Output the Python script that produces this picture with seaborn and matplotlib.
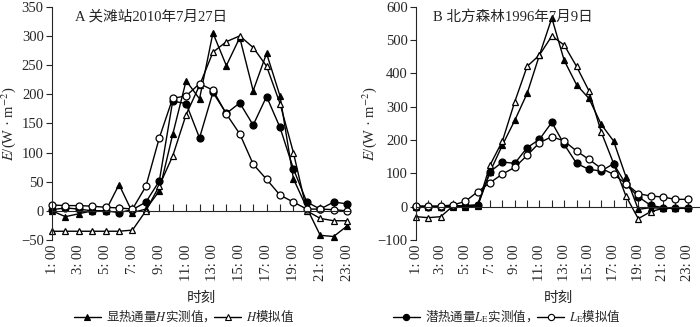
import matplotlib
matplotlib.use("Agg")
import matplotlib.pyplot as plt
from matplotlib.lines import Line2D
import seaborn as sns
import numpy as np
import pandas as pd

sns.set_style("ticks")
plt.rcParams['font.family'] = ['Liberation Serif', 'Noto Sans CJK SC']
plt.rcParams['mathtext.fontset'] = 'stix'

hours = list(range(1, 24))
tick_hours = list(range(1, 24, 2))
tick_labels = [f"{h}: 00" for h in tick_hours]

# Panel A: 关滩站 2010-07-27
H_meas_A = [0, -10, -5, 0, 0, 45, -3, 3, 34, 131, 223, 192, 305, 249, 297, 206, 270, 197, 55, 5, -42, -44, -26]
H_sim_A = [-35, -35, -35, -35, -35, -35, -33, 0, 43, 94, 165, 215, 272, 290, 300, 280, 248, 184, 100, 0, -13, -17, -17]
LE_meas_A = [2, 5, 3, 0, 0, -3, 2, 15, 51, 188, 184, 125, 203, 167, 185, 147, 196, 143, 72, 15, 3, 15, 12]
LE_sim_A = [10, 9, 9, 8, 6, 5, 3, 42, 125, 193, 197, 218, 207, 166, 132, 80, 54, 27, 15, 3, 3, 2, 0]

# Panel B: 北方森林 1996-07-09
H_meas_B = [0, 0, 0, 0, 0, 2, 105, 185, 259, 340, 455, 566, 439, 366, 325, 247, 197, 90, -8, -3, -5, -5, -5]
H_sim_B = [-30, -33, -30, 2, 3, 5, 125, 197, 315, 421, 455, 512, 485, 421, 348, 224, 130, 32, -36, -15, -5, -3, -3]
LE_meas_B = [0, 0, 0, 2, 3, 5, 105, 134, 130, 177, 202, 253, 187, 130, 112, 107, 129, 67, 30, 4, -3, -5, -5]
LE_sim_B = [2, 2, 2, 5, 16, 45, 72, 98, 118, 154, 192, 210, 197, 167, 142, 115, 97, 69, 39, 32, 29, 22, 22]

labels = ["显热通量$H$实测值，", "$H$模拟值", "潜热通量$L_\\mathrm{E}$实测值，", "$L_\\mathrm{E}$模拟值"]
styles = [("^", "black"), ("^", "white"), ("o", "black"), ("o", "white")]

fig = plt.figure(figsize=(7.0, 3.27), dpi=100)
axA = fig.add_axes([52/700, 1-240/327, 298/700, (240-6.7)/327])
axB = fig.add_axes([416/700, 1-240/327, 284/700, (240-6.7)/327])

panels = [
    (axA, [H_meas_A, H_sim_A, LE_meas_A, LE_sim_A], (-50, 350), 50, (1, 23.22), "A 关滩站2010年7月27日", 0.077, -0.115),
    (axB, [H_meas_B, H_sim_B, LE_meas_B, LE_sim_B], (-100, 600), 100, (1, 24.0), "B 北方森林1996年7月9日", 0.06, -0.13),
]

for ax, series, ylim, ystep, xlim, title, tx, ylx in panels:
    for vals, (mk, fc), lab in zip(series, styles, labels):
        df = pd.DataFrame({"hour": hours, "E": vals})
        sns.lineplot(data=df, x="hour", y="E", ax=ax, color="black", lw=1.0,
                     marker=mk, markersize=5, markerfacecolor=fc,
                     markeredgecolor="black", markeredgewidth=0.9,
                     clip_on=False, legend=False)
    ax.set_xlim(*xlim)
    ax.set_ylim(*ylim)
    ax.set_yticks(np.arange(ylim[0], ylim[1] + 1, ystep))
    ax.spines['top'].set_visible(False)
    ax.spines['right'].set_visible(False)
    ax.spines['bottom'].set_position(('data', 0))
    ax.set_xticks(hours)
    ax.tick_params(axis='x', direction='in', length=5, width=0.8, labelbottom=False)
    ax.tick_params(axis='y', direction='out', length=4, width=0.8, labelsize=10.5, pad=2)
    ax.set_xlabel("")
    ax.set_ylabel(r"$E$/(W · m$^{-2}$)", fontsize=10.5)
    ax.yaxis.set_label_coords(ylx, 0.5)
    sec = ax.secondary_xaxis('bottom')
    sec.set_xticks(tick_hours, tick_labels, rotation=90, fontsize=10.5)
    sec.tick_params(length=0, pad=3)
    sec.spines['bottom'].set_visible(False)
    ax.text(tx, 0.985, title, transform=ax.transAxes,
            fontsize=10.5, va='top', ha='left')

fig.text(201/700, 1-298/327, "时刻", ha='center', va='center', fontsize=10.5)
fig.text(558/700, 1-298/327, "时刻", ha='center', va='center', fontsize=10.5)

handles = [Line2D([], [], color='black', lw=1.0, marker=mk, markersize=4.5,
                  markerfacecolor=fc, markeredgecolor='black', markeredgewidth=0.8)
           for mk, fc in styles]
leg_prop = {'family': 'Noto Sans CJK SC', 'size': 9}
fig.legend(handles[0:2], labels[0:2], loc='center', bbox_to_anchor=(184/700, 1-316/327),
           ncol=2, frameon=False, prop=leg_prop, handlelength=2.2, handletextpad=0.4,
           columnspacing=0.4, borderpad=0, borderaxespad=0)
fig.legend(handles[2:4], labels[2:4], loc='center', bbox_to_anchor=(507/700, 1-316/327),
           ncol=2, frameon=False, prop=leg_prop, handlelength=2.2, handletextpad=0.4,
           columnspacing=0.4, borderpad=0, borderaxespad=0)

fig.savefig("out.png", dpi=100)
